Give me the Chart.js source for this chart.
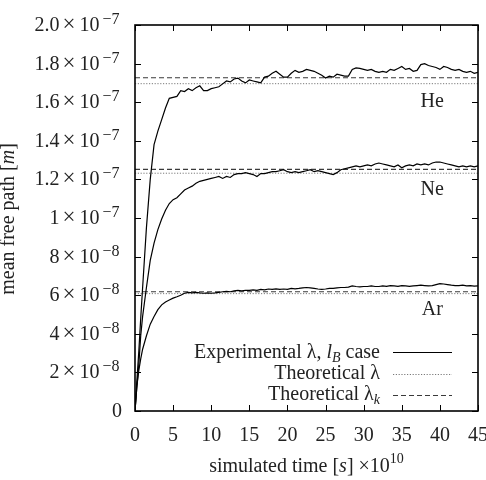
<!DOCTYPE html>
<html>
<head>
<meta charset="utf-8">
<script src="https://cdn.jsdelivr.net/npm/chart.js@4/dist/chart.umd.min.js"></script>
<style>
  html, body { margin: 0; padding: 0; background: #fff; }
  #c { display: block; }
</style>
</head>
<body>
<canvas id="c" width="486" height="480" style="width:486px;height:480px"></canvas>
<script>
// ---------- data (mean free path in units of 1e-8 m) ----------
const UNIT = 1e-8;
const time = [
  0, 0.25, 0.5, 0.75, 1, 1.5, 2, 2.5, 3, 3.5,
  4, 4.5, 5, 5.5, 6, 6.5, 7, 7.5, 8, 8.5,
  9, 9.5, 10, 10.5, 11, 11.5, 12, 12.5, 13, 13.5,
  14, 14.5, 15, 15.5, 16, 16.5, 17, 17.5, 18, 18.5,
  19, 19.5, 20, 20.5, 21, 21.5, 22, 22.5, 23, 23.5,
  24, 24.5, 25, 25.5, 26, 26.5, 27, 27.5, 28, 28.5,
  29, 29.5, 30, 30.5, 31, 31.5, 32, 32.5, 33, 33.5,
  34, 34.5, 35, 35.5, 36, 36.5, 37, 37.5, 38, 38.5,
  39, 39.5, 40, 40.5, 41, 41.5, 42, 42.5, 43, 43.5,
  44, 44.5, 45
];
const heExp = [
  0, 1.6, 3.1, 4.8, 6.4, 9.5, 12.0, 13.8, 14.5, 15.1,
  15.7, 16.2, 16.25, 16.3, 16.6, 16.55, 16.7, 16.6, 16.75, 16.85,
  16.6, 16.6, 16.7, 16.75, 16.8, 16.95, 17.1, 17.05, 17.2, 17.25,
  17.1, 17.0, 17.15, 17.1, 17.05, 17.0, 17.3, 17.35, 17.5, 17.6,
  17.45, 17.3, 17.3, 17.5, 17.65, 17.55, 17.6, 17.7, 17.65, 17.6,
  17.5, 17.4, 17.25, 17.35, 17.3, 17.45, 17.4, 17.35, 17.35, 17.7,
  17.78, 17.75, 17.7, 17.65, 17.7, 17.6, 17.55, 17.6, 17.55, 17.7,
  17.65, 17.75, 17.85, 17.7, 17.75, 17.6, 17.65, 17.95, 18.0, 17.9,
  17.85, 17.8, 17.7, 17.85, 17.8, 17.7, 17.65, 17.7, 17.6, 17.55,
  17.6, 17.5, 17.55
];
const neExp = [
  0, 1.3, 2.4, 3.9, 4.9, 6.4, 7.8, 8.7, 9.4, 9.95,
  10.4, 10.75, 10.95, 11.05, 11.25, 11.45, 11.55, 11.65, 11.8, 11.9,
  11.95, 12.0, 12.05, 12.1, 12.15, 12.05, 12.15, 12.1, 12.25, 12.3,
  12.3, 12.35, 12.3, 12.25, 12.15, 12.3, 12.3, 12.35, 12.4, 12.4,
  12.45, 12.5, 12.4, 12.35, 12.4, 12.35, 12.4, 12.45, 12.5, 12.4,
  12.45, 12.4, 12.35, 12.3, 12.25, 12.35, 12.5, 12.55, 12.6, 12.65,
  12.7, 12.65, 12.7, 12.75, 12.7, 12.8, 12.85, 12.8, 12.75, 12.7,
  12.65, 12.75, 12.6, 12.7, 12.75, 12.7, 12.8, 12.75, 12.8, 12.75,
  12.85, 12.9, 12.9, 12.85, 12.8, 12.75, 12.7, 12.65, 12.7, 12.65,
  12.7, 12.65, 12.7
];
const arExp = [
  0, 1.3, 2.1, 2.7, 3.2, 3.9, 4.5, 4.9, 5.25, 5.5,
  5.65, 5.75, 5.85, 5.92, 6.0, 6.1, 6.15, 6.12, 6.15, 6.12,
  6.1, 6.12, 6.1, 6.12, 6.15, 6.18, 6.2, 6.18, 6.22, 6.25,
  6.22, 6.25, 6.25, 6.28, 6.25, 6.3, 6.28, 6.32, 6.3, 6.33,
  6.3, 6.32, 6.3, 6.35, 6.33, 6.35, 6.38, 6.4, 6.38, 6.35,
  6.32, 6.3, 6.32, 6.35, 6.35, 6.38, 6.4, 6.4, 6.42, 6.48,
  6.45, 6.43, 6.45, 6.45, 6.48, 6.45, 6.45, 6.48, 6.46, 6.5,
  6.48, 6.46, 6.5, 6.48, 6.46, 6.48, 6.5, 6.52, 6.5, 6.48,
  6.5, 6.55, 6.6, 6.58, 6.55, 6.52, 6.5, 6.5, 6.52, 6.48,
  6.5, 6.47, 6.48
];
const gases = ['He', 'Ne', 'Ar'];
const theoLambda = [16.96, 12.32, 6.08];
const theoLambdaK = [17.27, 12.52, 6.18];
const timeRange = [0, 45];

const xTickLabels = ['0', '5', '10', '15', '20', '25', '30', '35', '40', '45'];
const xTickValues = [0, 5, 10, 15, 20, 25, 30, 35, 40, 45];
const yTickValues = [0, 2e-8, 4e-8, 6e-8, 8e-8, 1e-7, 1.2e-7, 1.4e-7, 1.6e-7, 1.8e-7, 2.0e-7];
const yTickMantissa = ['0', '2', '4', '6', '8', '1', '1.2', '1.4', '1.6', '1.8', '2.0'];
const yTickExponent = ['', '\u22128', '\u22128', '\u22128', '\u22128', '\u22127', '\u22127', '\u22127', '\u22127', '\u22127', '\u22127'];
// gas label anchor points in data units (time, 1e-8 m)
const gasLabelTime = [39, 39, 39];
const gasLabelValue = [16.1, 11.55, 5.35];

const legendExp = 'Experimental \u03bb, l_B case';
const legendTheo = 'Theoretical \u03bb';
const legendTheoK = 'Theoretical \u03bb_k';

// ---------- datasets ----------
function series(vals) { return time.map((t, i) => ({ x: t, y: vals[i] * UNIT })); }
function hline(v) { return timeRange.map(t => ({ x: t, y: v * UNIT })); }

const datasets = [];
[heExp, neExp, arExp].forEach(arr => datasets.push({
  label: legendExp, data: series(arr), borderColor: '#000', borderWidth: 1.2,
  pointRadius: 0, tension: 0, fill: false, order: 0
}));
theoLambda.forEach(v => datasets.push({
  label: legendTheo, data: hline(v), borderColor: '#7a7a7a', borderWidth: 1,
  borderDash: [1.2, 1.6], pointRadius: 0, fill: false, order: 2
}));
theoLambdaK.forEach(v => datasets.push({
  label: legendTheoK, data: hline(v), borderColor: '#3a3a3a', borderWidth: 1.1,
  borderDash: [5, 3], pointRadius: 0, fill: false, order: 1
}));

// ---------- rich text helpers ----------
const FAM = '"Liberation Serif", serif';
function font(size, italic) { return (italic ? 'italic ' : '') + size + 'px ' + FAM; }
function richWidth(ctx, parts) {
  let w = 0;
  parts.forEach(p => { ctx.font = font(p.size, p.italic); w += ctx.measureText(p.t).width; });
  return w;
}
function drawRich(ctx, parts, x, y, align) {
  const w = richWidth(ctx, parts);
  let cx = align === 'right' ? x - w : align === 'center' ? x - w / 2 : x;
  ctx.textAlign = 'left';
  ctx.textBaseline = 'alphabetic';
  parts.forEach(p => {
    ctx.font = font(p.size, p.italic);
    ctx.fillText(p.t, cx, y + (p.dy || 0));
    cx += ctx.measureText(p.t).width;
  });
}
function labelParts(label, size) {
  if (label === legendExp) {
    return [
      { t: 'Experimental \u03bb, ', size },
      { t: 'l', size, italic: true },
      { t: 'B', size: size * 0.7, italic: true, dy: 4 },
      { t: ' case', size }
    ];
  }
  if (label === legendTheoK) {
    return [
      { t: 'Theoretical \u03bb', size },
      { t: 'k', size: size * 0.7, italic: true, dy: 4 }
    ];
  }
  return [{ t: label, size }];
}

// ---------- custom drawing plugin (frame, ticks, labels, legend) ----------
const decor = {
  id: 'decor',
  afterDraw(chart) {
    const ctx = chart.ctx;
    const a = chart.chartArea;
    const xs = chart.scales.x, ys = chart.scales.y;
    ctx.save();
    ctx.fillStyle = '#222';
    ctx.strokeStyle = '#000';

    // frame
    ctx.lineWidth = 1.6;
    ctx.strokeRect(a.left, a.top, a.right - a.left, a.bottom - a.top);

    // inward ticks, mirrored on all sides
    ctx.lineWidth = 1;
    const TL = 6;
    ctx.beginPath();
    xTickValues.forEach(v => {
      const px = Math.round(xs.getPixelForValue(v)) + 0.5;
      ctx.moveTo(px, a.bottom); ctx.lineTo(px, a.bottom - TL);
      ctx.moveTo(px, a.top); ctx.lineTo(px, a.top + TL);
    });
    yTickValues.forEach(v => {
      const py = Math.round(ys.getPixelForValue(v)) + 0.5;
      ctx.moveTo(a.left, py); ctx.lineTo(a.left + TL, py);
      ctx.moveTo(a.right, py); ctx.lineTo(a.right - TL, py);
    });
    ctx.stroke();

    const FS = 20;
    // x tick labels
    xTickValues.forEach((v, i) => {
      drawRich(ctx, [{ t: xTickLabels[i], size: FS }], xs.getPixelForValue(v), a.bottom + 30, 'center');
    });

    // y tick labels: column layout (mantissa | × | 10 | exponent)
    ctx.textBaseline = 'alphabetic';
    yTickValues.forEach((v, i) => {
      const base = ys.getPixelForValue(v) + 6;
      ctx.font = font(FS);
      if (!yTickExponent[i]) {
        ctx.textAlign = 'right';
        ctx.fillText(yTickMantissa[i], 122, base);
        return;
      }
      ctx.textAlign = 'right';
      ctx.fillText(yTickMantissa[i], 59.5, base);
      ctx.font = font(23); ctx.textAlign = 'center';
      ctx.fillText('\u00d7', 69, base);
      ctx.font = font(FS); ctx.textAlign = 'left';
      ctx.fillText('10', 79.5, base);
      ctx.font = font(16); ctx.textAlign = 'left';
      ctx.fillText(yTickExponent[i], 102.5, base - 7);
    });

    // axis titles
    drawRich(ctx, [
      { t: 'simulated time [', size: FS },
      { t: 's', size: FS, italic: true },
      { t: '] \u00d710', size: FS },
      { t: '10', size: 14, dy: -9 }
    ], (a.left + a.right) / 2, 472, 'center');

    ctx.save();
    ctx.translate(14, (a.top + a.bottom) / 2 + 1);
    ctx.rotate(-Math.PI / 2);
    drawRich(ctx, [
      { t: 'mean free path [', size: FS },
      { t: 'm', size: FS, italic: true },
      { t: ']', size: FS }
    ], 0, 0, 'center');
    ctx.restore();

    // gas annotations
    gases.forEach((g, i) => {
      drawRich(ctx, [{ t: g, size: FS }], xs.getPixelForValue(gasLabelTime[i]), ys.getPixelForValue(gasLabelValue[i] * UNIT) + 7, 'center');
    });

    // legend: text right-aligned, line sample to the right
    const seen = [];
    chart.data.datasets.forEach(ds => { if (!seen.find(s => s.label === ds.label)) seen.push(ds); });
    const textRight = 380, lx0 = 393, lx1 = 452, rowY0 = 352.3, rowH = 21.3;
    seen.forEach((ds, i) => {
      const cy = rowY0 + i * rowH;
      drawRich(ctx, labelParts(ds.label, FS), textRight, cy + 5.5, 'right');
      ctx.save();
      ctx.beginPath();
      ctx.strokeStyle = ds.borderColor;
      ctx.lineWidth = ds.borderWidth;
      ctx.setLineDash(ds.borderDash || []);
      const ly = Math.round(cy) + 0.5;
      ctx.moveTo(lx0, ly); ctx.lineTo(lx1, ly);
      ctx.stroke();
      ctx.restore();
    });
    ctx.restore();
  }
};

new Chart(document.getElementById('c').getContext('2d'), {
  type: 'line',
  data: { datasets },
  options: {
    responsive: false,
    animation: false,
    events: [],
    layout: { padding: { top: 25, right: 8, left: 0, bottom: 0 } },
    scales: {
      x: {
        type: 'linear', min: timeRange[0], max: timeRange[1],
        ticks: { display: false, stepSize: 5 },
        grid: { display: false }, border: { display: false },
        afterFit: s => { s.height = 69; }
      },
      y: {
        type: 'linear', min: 0, max: 2e-7,
        ticks: { display: false, stepSize: 2e-8 },
        grid: { display: false }, border: { display: false },
        afterFit: s => { s.width = 135; }
      }
    },
    plugins: { legend: { display: false }, tooltip: { enabled: false } }
  },
  plugins: [decor]
});
</script>
</body>
</html>
